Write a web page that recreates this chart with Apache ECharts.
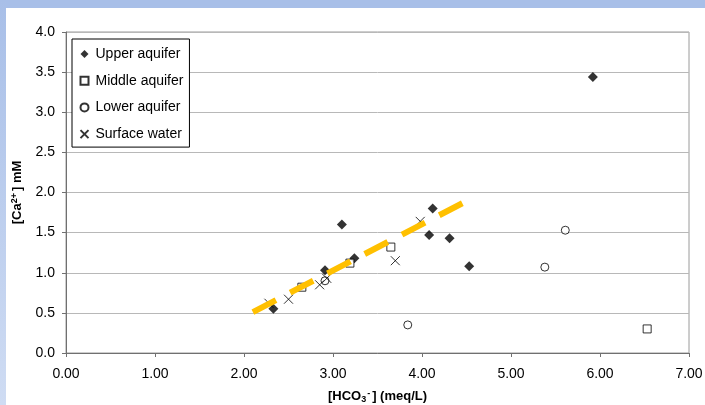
<!DOCTYPE html>
<html><head><meta charset="utf-8">
<script src="https://cdn.jsdelivr.net/npm/echarts@6/dist/echarts.min.js"></script>
<style>html,body{margin:0;padding:0;background:#fff}#c{width:705px;height:405px}</style>
</head><body><div id="c"></div>
<script>
const upperAquifer = [[2.33,0.55],[2.91,1.03],[3.10,1.60],[3.24,1.18],[4.08,1.47],[4.12,1.80],[4.31,1.43],[4.53,1.08],[5.92,3.44]];
const middleAquifer = [[2.65,0.82],[3.19,1.12],[3.65,1.32],[6.53,0.30]];
const lowerAquifer = [[2.91,0.90],[3.84,0.35],[5.38,1.07],[5.61,1.53]];
const surfaceWater = [[2.28,0.62],[2.50,0.67],[2.85,0.85],[2.93,0.93],[3.70,1.15],[3.98,1.64]];
const trendLine = [[2.10,0.51],[4.53,1.91]];
const xTicks = [0,1,2,3,4,5,6,7];
const yTicks = [0,0.5,1,1.5,2,2.5,3,3.5,4];
const seriesNames = ['Upper aquifer','Middle aquifer','Lower aquifer','Surface water'];

const FONT = '"Liberation Sans", Arial, sans-serif';
const crossPath = 'path://M0,0L10,10M10,0L0,10';
const chart = echarts.init(document.getElementById('c'), null, {renderer:'canvas'});
chart.setOption({
  animation:false,
  backgroundColor:'#fff',
  textStyle:{fontFamily:FONT},
  graphic:[
    {type:'rect', shape:{x:0,y:0,width:705,height:8}, style:{fill:'#a8bfe8'}, z:-10},
    {type:'rect', shape:{x:0,y:0,width:6,height:405}, style:{fill:new echarts.graphic.LinearGradient(0,0,0,1,[{offset:0,color:'#a8bfe8'},{offset:1,color:'#cfdcf3'}])}, z:-10}
  ],
  grid:{left:66,right:16,top:32,bottom:52,show:true,borderColor:'#9a9a9a',borderWidth:1,backgroundColor:'transparent',
    containLabel:false, outerBoundsMode:'none'},
  legend:{
    orient:'vertical', left:72, top:39,
    data:seriesNames.map(n=>({name:n})),
    borderColor:'#000', borderWidth:1, backgroundColor:'#fff',
    padding:[8,6,6,6], itemGap:12.7, itemWidth:8, itemHeight:8,
    textStyle:{fontSize:14, lineHeight:14, color:'#000', fontFamily:FONT, padding:[0,0,0,2]},
    z:10
  },
  xAxis:{
    type:'value', min:0, max:7, interval:1,
    axisLine:{lineStyle:{color:'#707070'}},
    axisTick:{show:true, length:4, lineStyle:{color:'#707070'}},
    splitLine:{show:false},
    axisLabel:{fontSize:14, color:'#000', margin:14, formatter:v=>xTicks.includes(v)?v.toFixed(2):''},
    name:'[HCO{sub|3}{sup|-}] (meq/L)', nameLocation:'middle', nameGap:36,
    nameTextStyle:{fontSize:13, fontWeight:'bold', color:'#000',
      rich:{sub:{fontSize:9,fontWeight:'bold',verticalAlign:'bottom',padding:[6,0,0,0]},sup:{fontSize:9,fontWeight:'bold',verticalAlign:'top',padding:[0,2,6,1]}}}
  },
  yAxis:{
    type:'value', min:0, max:4, interval:0.5,
    axisLine:{show:true, lineStyle:{color:'#707070'}},
    axisTick:{show:true, length:4, lineStyle:{color:'#707070'}},
    splitLine:{show:true, lineStyle:{color:'#b8b8b8', width:1}},
    axisLabel:{fontSize:14, color:'#000', margin:11, formatter:v=>yTicks.includes(v)?v.toFixed(1):''},
    name:'[Ca{sup|2+}] mM', nameLocation:'middle', nameGap:41,
    nameTextStyle:{fontSize:13, fontWeight:'bold', color:'#000',
      rich:{sup:{fontSize:9,fontWeight:'bold',verticalAlign:'top',padding:[0,2,6,0]}}}
  },
  series:[
    {name:'Upper aquifer', type:'scatter', data:upperAquifer, symbol:'diamond', symbolSize:10,
      itemStyle:{color:'#000'}, z:3},
    {name:'Middle aquifer', type:'scatter', data:middleAquifer, symbol:'rect', symbolSize:8,
      itemStyle:{color:'#fff', borderColor:'#000', borderWidth:1}, z:3},
    {name:'Lower aquifer', type:'scatter', data:lowerAquifer, symbol:'circle', symbolSize:8,
      itemStyle:{color:'#fff', borderColor:'#000', borderWidth:1}, z:3},
    {name:'Surface water', type:'scatter', data:surfaceWater, symbol:crossPath, symbolSize:9,
      itemStyle:{color:'none', borderColor:'#000', borderWidth:1}, z:3},
    {name:'trend', type:'line', data:trendLine, showSymbol:false, symbol:'none',
      lineStyle:{color:'#FFC000', width:6, type:[26,16], cap:'butt'}, z:4, silent:true}
  ]
});
</script></body></html>
